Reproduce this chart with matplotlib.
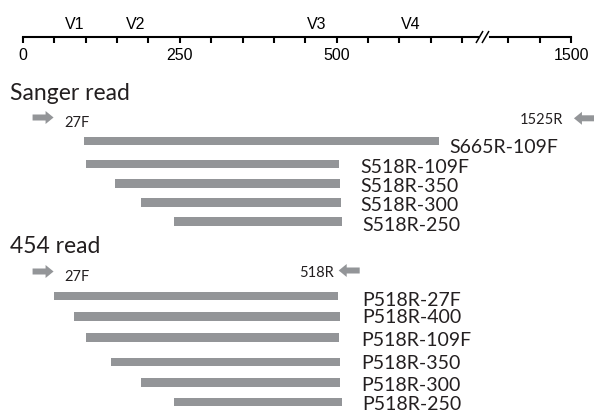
import matplotlib
matplotlib.use('Agg')
import matplotlib.pyplot as plt
from matplotlib.patches import FancyArrow

# ---------------- data ----------------
ruler_ticks_left = list(range(0, 701, 50))
ruler_ticks_right = [1400, 1450, 1500]
ruler_tick_labels = {0: '0', 250: '250', 500: '500', 1500: '1500'}
regions = ['V1', 'V2', 'V3', 'V4']
region_pos = [83, 180, 468, 618]

sanger_names = ['S665R-109F', 'S518R-109F', 'S518R-350', 'S518R-300', 'S518R-250']
sanger_start = [97, 100, 146, 188, 240]
sanger_end = [663, 504, 506, 507, 509]

p454_names = ['P518R-27F', 'P518R-400', 'P518R-109F', 'P518R-350', 'P518R-300', 'P518R-250']
p454_start = [49, 82, 100, 140, 188, 240]
p454_end = [502, 506, 504, 505, 506, 509]

sanger_primers = ['27F', '1525R']
sanger_primer_pos = [32, 1521]
p454_primers = ['27F', '518R']
p454_primer_pos = [32, 520]

# ---------------- layout ----------------
W, H = 594, 412
S = 0.6273            # pixels per base
X0 = 23               # pixel of position 0
BREAK_OFFSET = 626    # positions beyond the break are shifted by this
GREY = '#939598'
TXT = '#231f20'
LABEL_FONT = ['Lato', 'DejaVu Sans']
RULER_FONT = ['Liberation Sans', 'DejaVu Sans']


def pos(v):
    return v if v < 1000 else v - BREAK_OFFSET


def u(px):
    return (px - X0) / S


fig = plt.figure(figsize=(W / 100, H / 100), dpi=100)
ax = fig.add_axes([0, 0, 1, 1])
ax.set_xlim(u(0), u(W))
ax.set_ylim(H, 0)
ax.axis('off')

# ---------------- ruler ----------------
line_y = 37
left_end_px, right_start_px, right_end_px = 478, 489.5, 571
axl = fig.add_axes([X0 / W, (H - line_y) / H, (left_end_px - X0) / W, 0.0005])
axl.set_xlim(0, u(left_end_px))
axr = fig.add_axes([right_start_px / W, (H - line_y) / H, (right_end_px - right_start_px) / W, 0.0005])
axr.set_xlim(1500 - (right_end_px - right_start_px) / S, 1500)
for a, ticks in ((axl, ruler_ticks_left), (axr, ruler_ticks_right)):
    a.patch.set_visible(False)
    for s in ('top', 'left', 'right'):
        a.spines[s].set_visible(False)
    a.spines['bottom'].set_linewidth(1.5)
    a.set_yticks([])
    a.set_xticks(ticks)
    a.set_xticklabels([ruler_tick_labels.get(t, '') for t in ticks],
                      fontsize=11.5, family=RULER_FONT)
    a.tick_params(axis='x', direction='out', length=4, width=1.5, pad=4, colors='black')

# break marks
for dx in (0, 6):
    ax.plot([u(476 + dx), u(483 + dx)], [43, 31], color='black', lw=1.1,
            solid_capstyle='butt')

for name, p in zip(regions, region_pos):
    ax.text(p, 29, name, ha='center', va='baseline', fontsize=11.5,
            family=RULER_FONT, color='black')

# ---------------- section titles ----------------
ax.text(u(10), 100, 'Sanger read', ha='left', va='baseline', fontsize=16.5,
        family=LABEL_FONT, color=TXT)
ax.text(u(10), 252.7, '454 read', ha='left', va='baseline', fontsize=16.5,
        family=LABEL_FONT, color=TXT)

# ---------------- primers ----------------
ARROW_LEN = u(21) - u(0)
HEAD_LEN = u(8) - u(0)


def primer(name, p, y):
    c = pos(p)
    if name.endswith('F'):
        start, d = c - ARROW_LEN / 2, ARROW_LEN
    else:
        start, d = c + ARROW_LEN / 2, -ARROW_LEN
    ax.add_patch(FancyArrow(start, y, d, 0, width=6, head_width=13,
                            head_length=HEAD_LEN, length_includes_head=True,
                            color=GREY, lw=0))


primer(sanger_primers[0], sanger_primer_pos[0], 117.5)
ax.text(u(64), 126.5, sanger_primers[0], ha='left', va='baseline', fontsize=10.5,
        family=LABEL_FONT, color=TXT)
primer(sanger_primers[1], sanger_primer_pos[1], 118.3)
ax.text(u(563.5), 124, sanger_primers[1], ha='right', va='baseline', fontsize=10.5,
        family=LABEL_FONT, color=TXT)
primer(p454_primers[0], p454_primer_pos[0], 271.5)
ax.text(u(64), 281, p454_primers[0], ha='left', va='baseline', fontsize=10.5,
        family=LABEL_FONT, color=TXT)
primer(p454_primers[1], p454_primer_pos[1], 270.5)
ax.text(u(333.5), 277, p454_primers[1], ha='right', va='baseline', fontsize=10.5,
        family=LABEL_FONT, color=TXT)

# ---------------- reads ----------------
sanger_rows = [141, 164, 183.3, 202.3, 221.3]
sanger_label_x = [449.3, 360.7, 360.7, 360.7, 362.7]
sanger_label_base = [152.7, 172.7, 191.7, 210.7, 230.7]
p454_rows = [296, 316.7, 337.7, 362, 382.7, 402]
p454_label_x = [362.7, 362.7, 361, 361, 361, 362.7]
p454_label_base = [306, 323.3, 346, 369.3, 390.7, 410]

for rows, st, en, names, lx, lb in (
        (sanger_rows, sanger_start, sanger_end, sanger_names, sanger_label_x, sanger_label_base),
        (p454_rows, p454_start, p454_end, p454_names, p454_label_x, p454_label_base)):
    ax.barh(rows, [e - s for s, e in zip(st, en)], left=st, height=8.5,
            color=GREY, lw=0)
    for name, x, b in zip(names, lx, lb):
        ax.text(u(x), b, name, ha='left', va='baseline', fontsize=14,
                family=LABEL_FONT, color=TXT)

fig.savefig('out.png', dpi=100)
